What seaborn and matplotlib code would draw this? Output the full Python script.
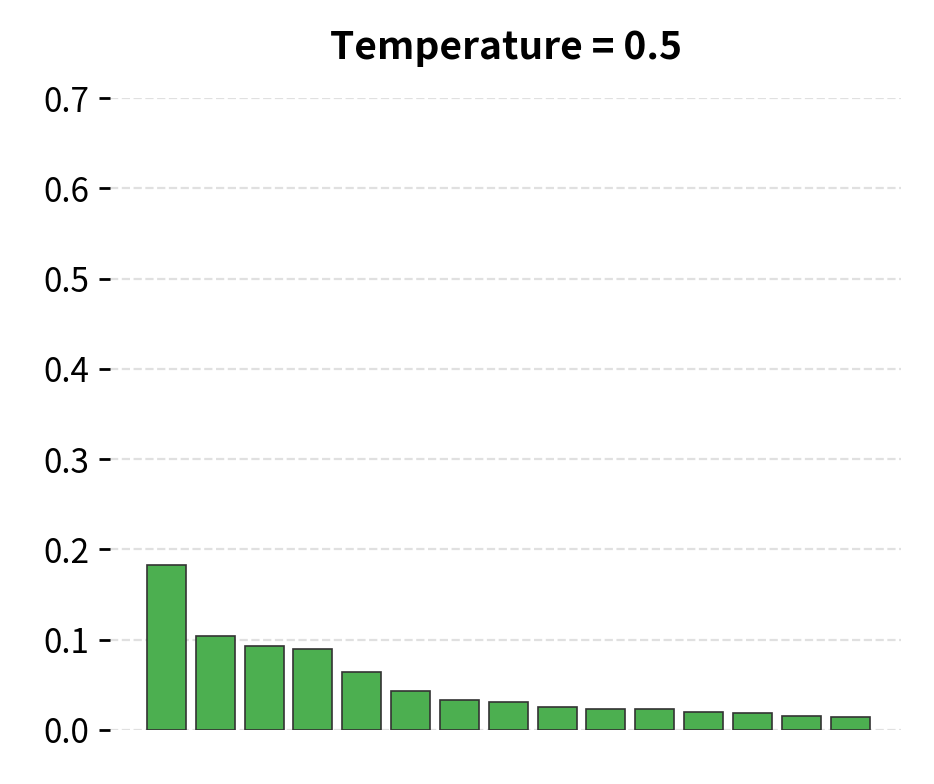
import numpy as np
import pandas as pd
import matplotlib.pyplot as plt
import seaborn as sns

tokens = [f"t{i}" for i in range(15)]
probs = [0.183, 0.104, 0.093, 0.090, 0.064, 0.043, 0.033, 0.031,
         0.0255, 0.023, 0.023, 0.020, 0.019, 0.0155, 0.0145]

sns.set_style('white')
plt.rcParams['font.family'] = ['Noto Sans CJK SC', 'DejaVu Sans']

df = pd.DataFrame({'token': tokens, 'prob': probs})
fig, ax = plt.subplots(figsize=(4.67, 3.92), dpi=200)
sns.barplot(data=df, x='token', y='prob', color='#4CAF50', saturation=1,
            edgecolor='#333333', linewidth=0.6, width=0.8, ax=ax)
ax.set_ylim(0, 0.7)
ax.set_xlim(-1.15, 15.05)
ax.set_xticks([])
ax.set_xlabel('')
ax.set_ylabel('')
ax.set_yticks(np.arange(0, 0.71, 0.1))
ax.tick_params(axis='y', left=True, length=4, width=1, labelsize=12,
               colors='black')
ax.yaxis.grid(True, linestyle='--', color='#e0e0e0', linewidth=0.8)
ax.set_axisbelow(True)
sns.despine(left=True, bottom=True)
ax.set_title('Temperature = 0.5', fontsize=14, fontweight='bold',
             color='black', pad=14)
fig.subplots_adjust(left=0.118, right=0.965, top=0.875, bottom=0.069)
fig.savefig('out.png', dpi=200)
